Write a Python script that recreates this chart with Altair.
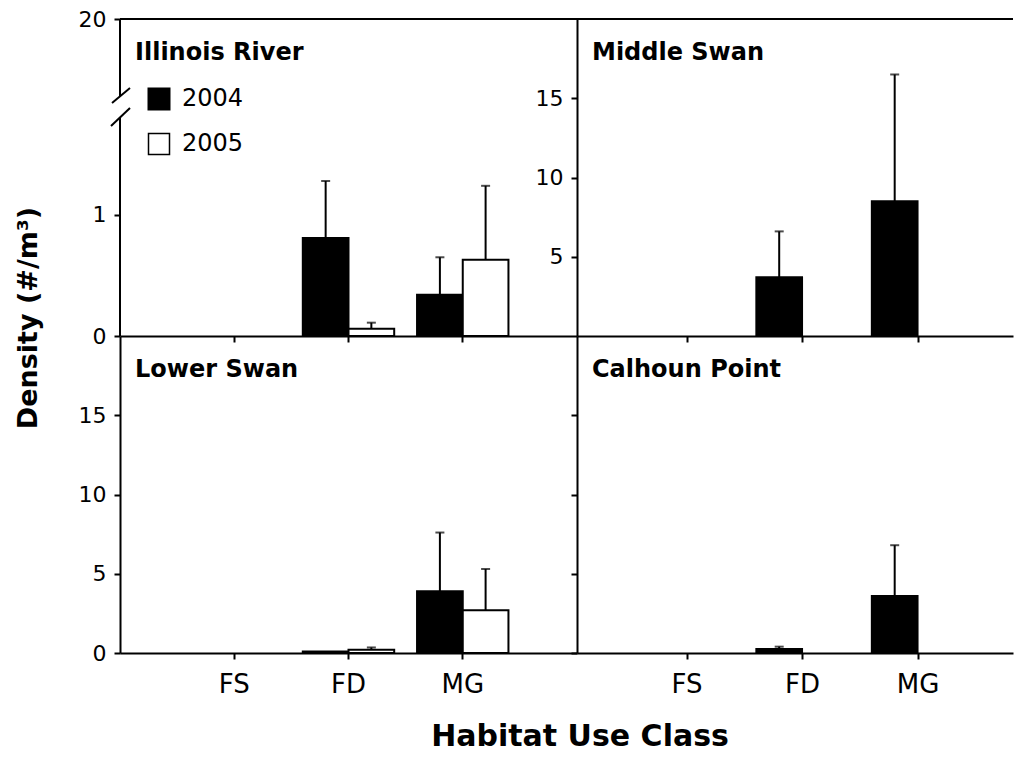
import altair as alt
import pandas as pd

habitats = ["FS", "FD", "MG"]
years = ["2004", "2005"]
sites = ["Illinois River", "Middle Swan", "Lower Swan", "Calhoun Point"]

illinois_2004 = [0.0, 0.81, 0.34]
illinois_2004_se = [0.0, 0.47, 0.31]
illinois_2005 = [0.0, 0.06, 0.63]
illinois_2005_se = [0.0, 0.05, 0.61]

middle_2004 = [0.0, 3.7, 8.5]
middle_2004_se = [0.0, 2.9, 8.0]
middle_2005 = [0.0, 0.0, 0.0]
middle_2005_se = [0.0, 0.0, 0.0]

lower_2004 = [0.0, 0.1, 3.9]
lower_2004_se = [0.0, 0.0, 3.7]
lower_2005 = [0.0, 0.2, 2.7]
lower_2005_se = [0.0, 0.15, 2.6]

calhoun_2004 = [0.0, 0.25, 3.6]
calhoun_2004_se = [0.0, 0.15, 3.2]
calhoun_2005 = [0.0, 0.0, 0.0]
calhoun_2005_se = [0.0, 0.0, 0.0]

illinois_ticks = [0, 1, 20]
swan_ticks = [5, 10, 15]
lower_ticks = [0, 5, 10, 15]

y_title = "Density (#/m³)"
x_title = "Habitat Use Class"

FONT = "DejaVu Sans"
LW, RW, H = 457, 436, 317
SW = 2


def make_df(v04, s04, v05, s05):
    rows = []
    for yr, vals, ses in (("2004", v04, s04), ("2005", v05, s05)):
        for h, v, s in zip(habitats, vals, ses):
            rows.append({"habitat": h, "year": yr, "value": v, "se": s, "upper": v + s})
    return pd.DataFrame(rows)


def one(label):
    return alt.Chart(pd.DataFrame({"label": [label]}))


def panel(df, side, y_scale, y_axis, xlabels, extra):
    width = LW if side == "left" else RW
    if side == "left":
        xsc = alt.Scale(domain=habitats, paddingInner=0.2, paddingOuter=0.6)
    else:
        xsc = alt.Scale(domain=habitats, paddingInner=0.2, paddingOuter=0.4875, align=0.567)
    xaxis = alt.Axis(title=None, labels=xlabels, labelFontSize=26, labelPadding=12,
                     tickSize=6, bandPosition=0.5, labelAngle=0, domainWidth=SW,
                     tickWidth=SW)
    base = alt.Chart(df).encode(
        x=alt.X("habitat:N", scale=xsc, axis=xaxis),
        xOffset=alt.XOffset("year:N", scale=alt.Scale(domain=years, paddingInner=0, paddingOuter=0)),
    )

    def yenc(f):
        return alt.Y(f"{f}:Q", scale=y_scale, axis=y_axis)

    bars = base.transform_filter("datum.value > 0").mark_bar(
        stroke="black", strokeWidth=SW
    ).encode(
        y=yenc("value"),
        fill=alt.Fill("year:N", scale=alt.Scale(domain=years, range=["black", "white"]), legend=None),
    )
    errs = base.transform_filter("datum.se > 0").mark_rule(color="black", strokeWidth=SW).encode(
        y=yenc("value"), y2="upper:Q"
    )
    caps = base.transform_filter("datum.se > 0").mark_tick(color="black", size=9, thickness=2).encode(
        y=yenc("upper")
    )
    return alt.layer(bars, errs, caps, *extra).properties(width=width, height=H)


def title_text(name):
    return one(name).mark_text(font=FONT, fontSize=24, fontWeight="bold", align="left",
                               baseline="middle", color="black").encode(
        x=alt.value(15), y=alt.value(34), text="label:N")


def top_border(width):
    return one("b").mark_rule(color="black", strokeWidth=SW).encode(
        x=alt.value(0), x2=alt.value(width), y=alt.value(0))


def yaxis(values, labels=True, domain=True):
    return alt.Axis(values=values, labels=labels, domain=domain, title=None, labelFontSize=22,
                    tickSize=6, labelPadding=8, grid=False, domainWidth=SW, tickWidth=SW)


# Illinois River (broken axis)
ill_scale = alt.Scale(domain=[0, 1.8, 20], range=[H, 99, 0], nice=False, zero=False)
ill_extra = [
    top_border(LW),
    title_text(sites[0]),
    one("a").mark_rule(color="black", strokeWidth=SW).encode(x=alt.value(0), y=alt.value(0), y2=alt.value(77)),
    one("a").mark_rule(color="black", strokeWidth=SW).encode(x=alt.value(0), y=alt.value(98), y2=alt.value(H)),
    one("s").mark_rule(color="black", strokeWidth=SW).encode(x=alt.value(-8), x2=alt.value(10), y=alt.value(84), y2=alt.value(69)),
    one("s").mark_rule(color="black", strokeWidth=SW).encode(x=alt.value(-9), x2=alt.value(10), y=alt.value(107), y2=alt.value(89)),
    one("sq").mark_square(size=441, color="black", stroke="black", strokeWidth=SW, opacity=1).encode(x=alt.value(39), y=alt.value(80)),
    one("sq").mark_square(size=441, fill="white", stroke="black", strokeWidth=1.5, opacity=1).encode(x=alt.value(39), y=alt.value(125)),
    one(years[0]).mark_text(font=FONT, fontSize=24, align="left", baseline="middle", color="black").encode(
        x=alt.value(62), y=alt.value(80), text="label:N"),
    one(years[1]).mark_text(font=FONT, fontSize=24, align="left", baseline="middle", color="black").encode(
        x=alt.value(62), y=alt.value(125), text="label:N"),
    one(y_title).mark_text(font=FONT, fontSize=27, fontWeight="bold", align="center", baseline="middle",
                           angle=270, color="black").encode(x=alt.value(-91), y=alt.value(299), text="label:N"),
]
tl = panel(make_df(illinois_2004, illinois_2004_se, illinois_2005, illinois_2005_se), "left",
           ill_scale, yaxis(illinois_ticks, domain=False), False, ill_extra)

std_scale = alt.Scale(domain=[0, 20], nice=False)

tr = panel(make_df(middle_2004, middle_2004_se, middle_2005, middle_2005_se), "right",
           std_scale, yaxis(swan_ticks), False, [top_border(RW), title_text(sites[1])])

bl = panel(make_df(lower_2004, lower_2004_se, lower_2005, lower_2005_se), "left",
           std_scale, yaxis(lower_ticks), True,
           [title_text(sites[2]),
            one(x_title).mark_text(font=FONT, fontSize=30, fontWeight="bold", align="center",
                                   baseline="alphabetic", color="black").encode(
                x=alt.value(460), y=alt.value(410), text="label:N")])

br = panel(make_df(calhoun_2004, calhoun_2004_se, calhoun_2005, calhoun_2005_se), "right",
           std_scale, yaxis(lower_ticks, labels=False), True, [title_text(sites[3])])

chart = alt.concat(tl, tr, bl, br, columns=2, spacing=0, bounds="flush").properties(
    padding={"left": 7, "top": 0, "right": 0, "bottom": 0}
).configure_view(stroke=None).configure_axis(
    labelFont=FONT, labelColor="black", tickColor="black", domainColor="black", grid=False
)

chart.save("out.html", embed_options={"renderer": "svg", "actions": False})
